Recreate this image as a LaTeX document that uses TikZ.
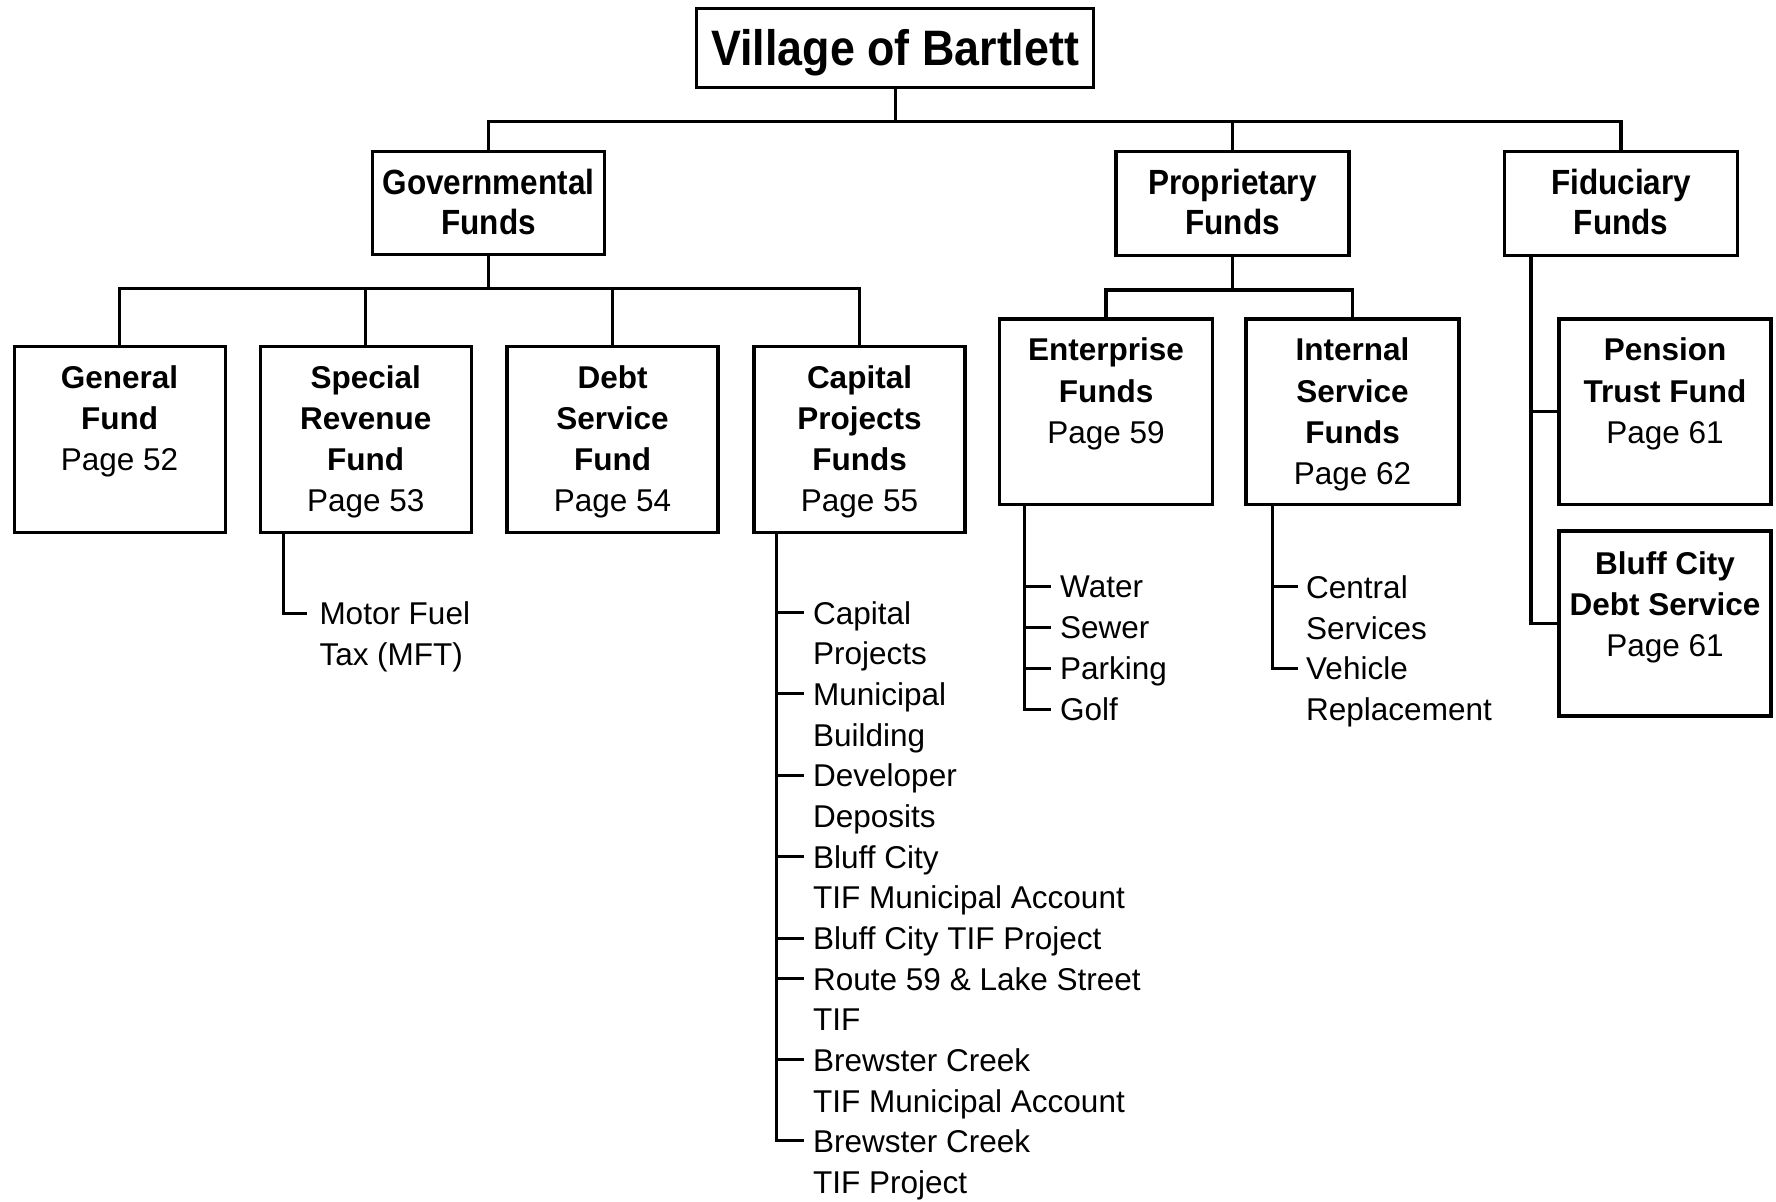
\documentclass[tikz,border=0pt]{standalone}
\usepackage{fontspec}
\setmainfont{Liberation Sans}
\newfontfamily\condf[FakeStretch=0.9]{Liberation Sans}
\begin{document}
\begin{tikzpicture}[x=1pt,y=-1pt,
  box/.style n args={2}{draw,line width=3.2pt,minimum width=#1,minimum height=#2,inner sep=0pt},
  conn/.style={line width=3.2pt},
  tick/.style={line width=3pt},
  titlefont/.style={font=\condf\bfseries\fontsize{49.8}{55}\selectfont,inner sep=0pt},
  lvltwo/.style={font=\condf\bfseries\fontsize{35}{39.5}\selectfont,align=center,anchor=north,inner sep=0pt},
  lvlthree/.style={font=\fontsize{31.5}{41.3}\selectfont,align=center,anchor=north,inner sep=0pt},
  item/.style={font=\fontsize{31.5}{40.7}\selectfont,align=left,anchor=north west,inner sep=0pt}
]
\useasboundingbox (0,0) rectangle (1776,1201);

% top
\node[box={397}{79}] (top) at (895.3,48.3) {};
\node[titlefont,anchor=base] (toplbl) at (895.3,65.7) {Village of Bartlett};

% level 2
\node[box={232}{103}] (gov) at (488.5,203) {};
\node[lvltwo] (govl) at (488.5,169) {Governmental\\Funds};
\node[box={233}{104}] (prop) at (1232.5,203.5) {};
\node[lvltwo] (propl) at (1232.5,169) {Proprietary\\Funds};
\node[box={233}{104}] (fid) at (1621,203.5) {};
\node[lvltwo] (fidl) at (1621,169) {Fiduciary\\Funds};

% level 3 governmental
\node[box={211}{186}] (gen) at (119.6,439.1) {};
\node[lvlthree] (genl) at (119.6,365) {\textbf{General}\\\textbf{Fund}\\Page 52};
\node[box={211}{186}] (spec) at (365.7,439.1) {};
\node[lvlthree] (specl) at (365.7,365) {\textbf{Special}\\\textbf{Revenue}\\\textbf{Fund}\\Page 53};
\node[box={211}{186}] (debt) at (612.5,439.1) {};
\node[lvlthree] (debtl) at (612.5,365) {\textbf{Debt}\\\textbf{Service}\\\textbf{Fund}\\Page 54};
\node[box={211}{186}] (capf) at (859.5,439.1) {};
\node[lvlthree] (capfl) at (859.5,365) {\textbf{Capital}\\\textbf{Projects}\\\textbf{Funds}\\Page 55};

% level 3 proprietary
\node[box={213}{185.5}] (ent) at (1106,411.7) {};
\node[lvlthree] (entl) at (1106,337.7) {\textbf{Enterprise}\\\textbf{Funds}\\Page 59};
\node[box={213}{185.5}] (int) at (1352.5,411.7) {};
\node[lvlthree] (intl) at (1352.5,337.7) {\textbf{Internal}\\\textbf{Service}\\\textbf{Funds}\\Page 62};

% level 3 fiduciary
\node[box={212}{185.5}] (pen) at (1665,411.7) {};
\node[lvlthree] (penl) at (1665,337.7) {\textbf{Pension}\\\textbf{Trust Fund}\\Page 61};
\node[box={212}{185}] (bcd) at (1665,623.5) {};
\node[lvlthree] (bcdl) at (1665,551) {\textbf{Bluff City}\\\textbf{Debt Service}\\Page 61};

% connectors top levels
\coordinate (b1) at (895.3,121.4);
\draw[conn] (top.south) -- (b1);
\draw[conn] (gov.north) |- (b1) -| (fid.north);
\draw[conn] (prop.north) -- (prop.north |- b1);

\coordinate (b2) at (488.5,288.5);
\draw[conn] (gov.south) -- (b2);
\draw[conn] (gen.north) |- (b2) -| (capf.north);
\draw[conn] (spec.north) -- (spec.north |- b2);
\draw[conn] (debt.north) -- (debt.north |- b2);

\coordinate (b3) at (1232.5,290);
\draw[conn] (prop.south) -- (b3);
\draw[conn] (ent.north) |- (b3) -| (int.north);

\coordinate (fs) at ([xshift=28]fid.south west);
\draw[conn] (fs) |- (bcd.west);
\draw[conn] (fs |- pen.west) -- (pen.west);

% special revenue list
\coordinate (mt) at (307,613);
\draw[tick] ([xshift=25]spec.south west) |- (mt);
\node[item] (mft) at (319.3,601.7) {Motor Fuel\\Tax (MFT)};

% capital projects list
\coordinate (cs) at ([xshift=24]capf.south west);
\coordinate (c1t) at (804,612.5);
\coordinate (c2t) at (804,693.6);
\coordinate (c3t) at (804,775.2);
\coordinate (c4t) at (804,856.5);
\coordinate (c5t) at (804,938);
\coordinate (c6t) at (804,978.5);
\coordinate (c7t) at (804,1059.8);
\coordinate (c8t) at (804,1140.8);
\draw[tick] (cs) |- (c8t);
\foreach \k in {1,...,7}{\draw[tick] (cs |- c\k t) -- (c\k t);}
\node[item] (c1) at (813,601.2) {Capital\\Projects};
\node[item] (c2) at (813,682.3) {Municipal\\Building};
\node[item] (c3) at (813,763.9) {Developer\\Deposits};
\node[item] (c4) at (813,845.2) {Bluff City\\TIF Municipal Account};
\node[item] (c5) at (813,926.7) {Bluff City TIF Project};
\node[item] (c6) at (813,967.2) {Route 59 \& Lake Street\\TIF};
\node[item] (c7) at (813,1048.5) {Brewster Creek\\TIF Municipal Account};
\node[item] (c8) at (813,1129.5) {Brewster Creek\\TIF Project};

% enterprise list
\coordinate (es) at ([xshift=27]ent.south west);
\coordinate (e1t) at (1051,586.6);
\coordinate (e2t) at (1051,627.4);
\coordinate (e3t) at (1051,668.2);
\coordinate (e4t) at (1051,709);
\draw[tick] (es) |- (e4t);
\foreach \k in {1,2,3}{\draw[tick] (es |- e\k t) -- (e\k t);}
\node[item] (e1) at (1060,575.3) {Water};
\node[item] (e2) at (1060,616.1) {Sewer};
\node[item] (e3) at (1060,656.9) {Parking};
\node[item] (e4) at (1060,697.7) {Golf};

% internal service list
\coordinate (is) at ([xshift=28]int.south west);
\coordinate (i1t) at (1298,586.6);
\coordinate (i2t) at (1298,668.2);
\draw[tick] (is) |- (i2t);
\draw[tick] (is |- i1t) -- (i1t);
\node[item] (i1) at (1306,575.3) {Central\\Services};
\node[item] (i2) at (1306,656.9) {Vehicle\\Replacement};
\end{tikzpicture}
\end{document}
